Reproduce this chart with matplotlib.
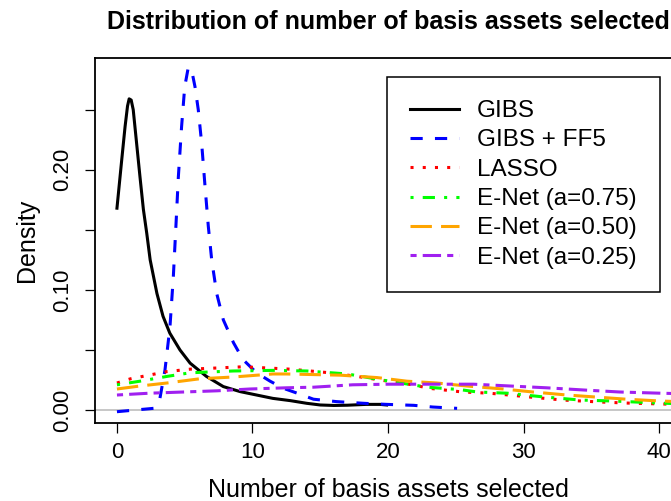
import matplotlib
matplotlib.use("Agg")
import matplotlib.pyplot as plt

plt.rcParams['font.family'] = ['Liberation Sans', 'DejaVu Sans']

# densidade do numero de ativos selecionados
x_gibs = [0, 0.35, 0.6, 0.78, 0.9, 1.05, 1.2, 1.45, 1.7, 1.95, 2.2, 2.45, 2.95, 3.4,
          3.9, 4.65, 5.4, 6.6, 7.85, 9.1, 10.3, 11.5, 12.8, 14.0, 15.0, 16.0, 17.0,
          18.4, 19.4, 19.9]
y_gibs = [0.168, 0.208, 0.236, 0.253, 0.259, 0.258, 0.250, 0.222, 0.194, 0.167, 0.147,
          0.125, 0.097, 0.078, 0.064, 0.050, 0.039, 0.028, 0.0195, 0.0153, 0.0125,
          0.0097, 0.0078, 0.0056, 0.0042, 0.0038, 0.004, 0.0047, 0.0047, 0.0042]

x_ff5 = [0, 2.7, 3.17, 3.54, 3.91, 4.16, 4.35, 4.53, 4.77, 5.0, 5.26, 5.51, 5.76, 6.0,
         6.25, 6.5, 6.74, 6.99, 7.36, 7.85, 8.6, 9.3, 10.3, 11.3, 12.3, 13.3, 14.5,
         16.2, 18.2, 19.9, 21.9, 23.3, 25.1]
y_ff5 = [-0.0014, 0.0014, 0.0097, 0.033, 0.069, 0.111, 0.153, 0.194, 0.236, 0.269,
         0.285, 0.283, 0.269, 0.250, 0.222, 0.186, 0.153, 0.125, 0.097, 0.075, 0.056,
         0.042, 0.031, 0.024, 0.018, 0.014, 0.009, 0.007, 0.0056, 0.0047, 0.0039,
         0.0025, 0.0014]

x_lasso = [0, 1, 1.9, 3.7, 5.4, 7.4, 9.3, 11.1, 12.8, 15.7, 17.7, 19.4, 21.8, 23.1,
           25.5, 27.5, 30.3, 32.9, 35.6, 37.6, 40.3, 42]
y_lasso = [0.0225, 0.026, 0.028, 0.032, 0.034, 0.035, 0.036, 0.035, 0.034, 0.031,
           0.028, 0.025, 0.021, 0.018, 0.015, 0.014, 0.011, 0.0083, 0.0067, 0.0058,
           0.005, 0.0045]

x_en75 = [0, 1.7, 3.7, 5.4, 8.6, 11.5, 14, 17, 20.1, 22.9, 25.3, 26.6, 28.8, 31.4,
          34.2, 36.6, 39.6, 42]
y_en75 = [0.021, 0.024, 0.028, 0.031, 0.0325, 0.033, 0.0325, 0.030, 0.024, 0.019,
          0.017, 0.015, 0.014, 0.011, 0.0083, 0.0075, 0.006, 0.005]

x_en50 = [0, 1.7, 3.7, 6.1, 8.6, 11.5, 12.5, 16.5, 19.2, 21.4, 23.6, 25.8, 28.5,
          30.7, 33.2, 35.1, 37.6, 40.1, 42]
y_en50 = [0.0175, 0.020, 0.0225, 0.026, 0.0275, 0.030, 0.030, 0.029, 0.027, 0.024,
          0.0225, 0.020, 0.0175, 0.015, 0.0125, 0.011, 0.009, 0.0075, 0.0068]

x_en25 = [0, 2.4, 4.9, 7.4, 9.8, 12.5, 14.5, 17.4, 20.1, 23.6, 26.3, 29, 31.7, 34.4,
          37.1, 40.1, 42]
y_en25 = [0.0125, 0.014, 0.015, 0.016, 0.0175, 0.0185, 0.019, 0.021, 0.0215, 0.0215,
          0.0215, 0.020, 0.0185, 0.0167, 0.015, 0.014, 0.0135]

x_ticks = [0, 10, 20, 30, 40]
y_ticks = [0.00, 0.05, 0.10, 0.15, 0.20, 0.25]
y_ticklabels = ['0.00', '', '0.10', '', '0.20', '']

fig = plt.figure(figsize=(6.71, 5.01), dpi=100)
W, H = 671, 501
# eixo passa da borda direita, como no original
ax = fig.add_axes([95 / W, 78 / H, 586 / W, 365 / H])

ax.axhline(0, color='#bebebe', lw=1.2, zorder=1)

lw = 2.2
ax.plot(x_gibs, y_gibs, color='black', lw=lw, label='GIBS')
ax.plot(x_ff5, y_ff5, color='blue', lw=lw, dashes=(4, 4), label='GIBS + FF5')
ax.plot(x_lasso, y_lasso, color='red', lw=lw, dashes=(1, 3), label='LASSO')
ax.plot(x_en75, y_en75, color='#00ff00', lw=lw, dashes=(1, 3, 4, 3), label='E-Net (a=0.75)')
ax.plot(x_en50, y_en50, color='orange', lw=lw, dashes=(7, 3), label='E-Net (a=0.50)')
ax.plot(x_en25, y_en25, color='#a020f0', lw=lw, dashes=(2, 2, 6, 2), label='E-Net (a=0.25)')

ax.set_xlim(-1.62, 41.62)
ax.set_ylim(-0.0108, 0.293)

ax.set_xticks(x_ticks)
ax.set_yticks(y_ticks)
ax.set_yticklabels(y_ticklabels)
ax.tick_params(length=7.5, width=0.9, labelsize=16)
ax.tick_params(axis='x', pad=6)
ax.tick_params(axis='y', pad=8)
for lab in ax.get_yticklabels():
    lab.set_rotation(90)
    lab.set_va('center')

for s in ax.spines.values():
    s.set_linewidth(1.3)

ax.set_xlabel('Number of basis assets selected', fontsize=18, labelpad=11)
ax.set_ylabel('Density', fontsize=18, labelpad=10)

fig.text(388 / W, 1 - 29 / H, 'Distribution of number of basis assets selected',
         ha='center', va='baseline', fontsize=18, fontweight='bold')

leg = ax.legend(loc='upper left', bbox_to_anchor=(387 / W, 1 - 77 / H),
                bbox_transform=fig.transFigure, borderaxespad=0,
                fontsize=17.5, frameon=True, fancybox=False, framealpha=1,
                edgecolor='black', handlelength=2.0, handletextpad=0.75,
                borderpad=0.95, labelspacing=0.3)
leg.get_frame().set_linewidth(1.1)

fig.savefig('out.png', dpi=100)
